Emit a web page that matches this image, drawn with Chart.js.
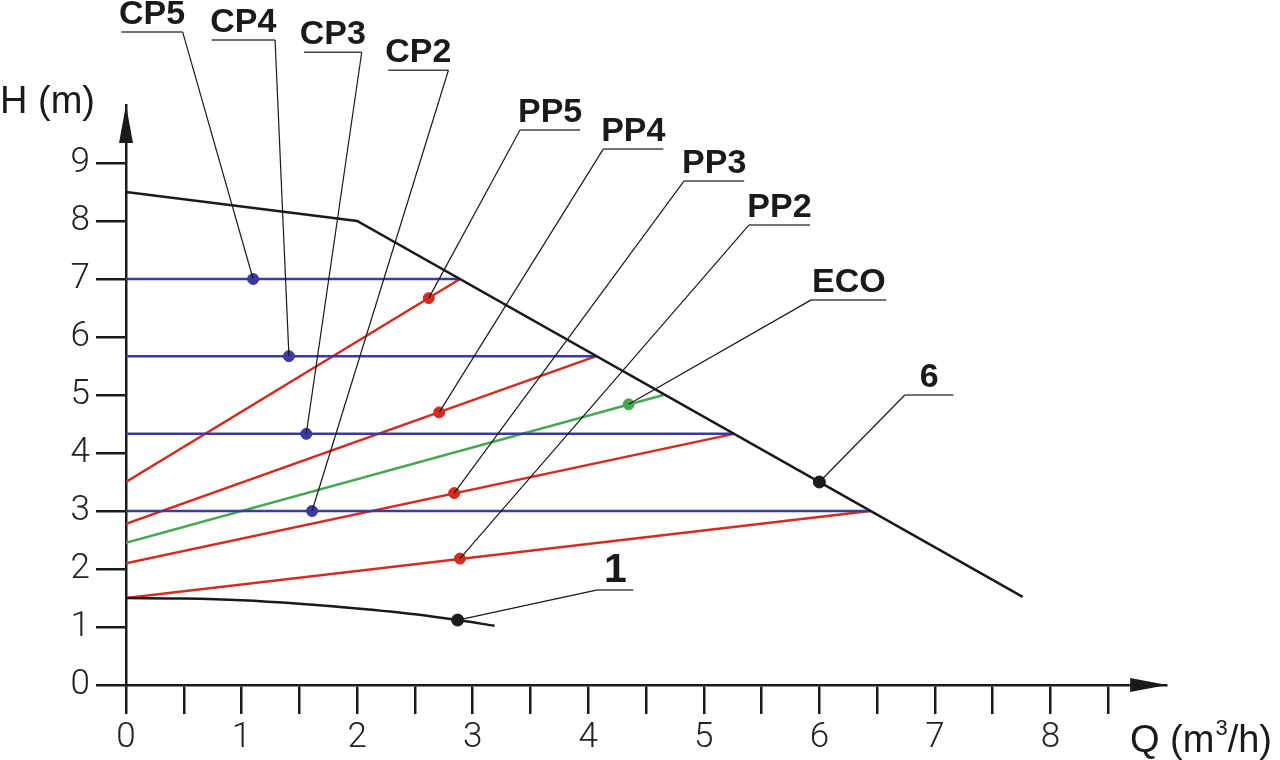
<!DOCTYPE html>
<html><head><meta charset="utf-8">
<script src="https://cdn.jsdelivr.net/npm/chart.js@4.4.1/dist/chart.umd.min.js"></script>
<style>html,body{margin:0;padding:0;background:#fff;overflow:hidden}canvas{display:block}</style>
</head><body>
<canvas id="c" width="1280" height="760"></canvas>
<script>
// ---- data ----
const xTickLabels = ['0','1','2','3','4','5','6','7','8'];
const yTickLabels = ['0','1','2','3','4','5','6','7','8','9'];

const maxQ = [0, 2, 7.76];            // curve "6"
const maxH = [8.5, 8.0, 1.52];
const minQ = [0, 0.5, 1, 1.5, 2, 2.5, 2.87, 3.19];   // curve "1"
const minH = [1.5, 1.49, 1.46, 1.40, 1.32, 1.22, 1.12, 1.02];

const cpNames = ['CP5','CP4','CP3','CP2'];
const cpH     = [7.0, 5.67, 4.33, 3.0];
const cpQend  = [2.89, 4.07, 5.26, 6.44];
const cpPtQ   = [1.10, 1.41, 1.56, 1.61];

const ppNames = ['PP5','PP4','PP3','PP2'];
const ppH0    = [3.5, 2.78, 2.1, 1.5];
const ppQend  = [2.89, 4.07, 5.26, 6.44];
const ppHend  = [7.0, 5.67, 4.33, 3.0];
const ppPtQ   = [2.62, 2.71, 2.84, 2.89];
const ppPtH   = [6.67, 4.70, 3.31, 2.18];

const ecoQ  = [0, 4.65];
const ecoH  = [2.45, 5.0];
const ecoPt = [4.35, 4.84];
const maxPt = [6.0, 3.5];
const minPt = [2.87, 1.12];

// ---- callout layout (label underline positions, in axis units) ----
const callouts = [
  {text:'CP5', x1:-0.04, x2:0.49, y:11.26, side:'r', tq:cpPtQ[0], th:cpH[0]},
  {text:'CP4', x1:0.74, x2:1.29, y:11.12, side:'r', tq:cpPtQ[1], th:cpH[1]},
  {text:'CP3', x1:1.54, x2:2.04, y:10.91, side:'r', tq:cpPtQ[2], th:cpH[2]},
  {text:'CP2', x1:2.27, x2:2.79, y:10.60, side:'r', tq:cpPtQ[3], th:cpH[3]},
  {text:'PP5', x1:3.41, x2:3.93, y:9.57, side:'l', tq:ppPtQ[0], th:ppPtH[0]},
  {text:'PP4', x1:4.13, x2:4.65, y:9.24, side:'l', tq:ppPtQ[1], th:ppPtH[1]},
  {text:'PP3', x1:4.83, x2:5.35, y:8.69, side:'l', tq:ppPtQ[2], th:ppPtH[2]},
  {text:'PP2', x1:5.39, x2:5.92, y:7.93, side:'l', tq:ppPtQ[3], th:ppPtH[3]},
  {text:'ECO', x1:5.93, x2:6.58, y:6.64, side:'l', tq:ecoPt[0], th:ecoPt[1]},
  {text:'6',   x1:6.74, x2:7.16, y:5.00, side:'l', tq:maxPt[0], th:maxPt[1]},
  {text:'1',   x1:4.08, x2:4.39, y:1.64, side:'l', tq:minPt[0], th:minPt[1], big:true}
];

const BLUE = '#3b3aa3', RED = '#d62b20', GREEN = '#45a852', BLACK = '#1a1a1a';
const pts = (qs, hs) => qs.map((q, i) => ({x:q, y:hs[i]}));

const datasets = [];
// markers (first = drawn on top)
datasets.push({data: cpPtQ.map((q,i)=>({x:q,y:cpH[i]})), backgroundColor:BLUE, borderColor:BLUE, pointRadius:5.5, showLine:false});
datasets.push({data: pts(ppPtQ, ppPtH), backgroundColor:RED, borderColor:RED, pointRadius:5.5, showLine:false});
datasets.push({data: [{x:ecoPt[0], y:ecoPt[1]}], backgroundColor:GREEN, borderColor:GREEN, pointRadius:5.5, showLine:false});
datasets.push({data: [{x:maxPt[0], y:maxPt[1]}, {x:minPt[0], y:minPt[1]}], backgroundColor:BLACK, borderColor:BLACK, pointRadius:6, showLine:false});
// black curves
datasets.push({data: pts(maxQ, maxH), borderColor:BLACK, borderWidth:2.5, pointRadius:0, showLine:true, tension:0});
datasets.push({data: pts(minQ, minH), borderColor:BLACK, borderWidth:2.5, pointRadius:0, showLine:true, cubicInterpolationMode:'monotone'});
// CP lines
cpNames.forEach((n,i)=>datasets.push({label:n, data:[{x:0,y:cpH[i]},{x:cpQend[i],y:cpH[i]}], borderColor:BLUE, borderWidth:2.5, pointRadius:0, showLine:true}));
// PP lines
ppNames.forEach((n,i)=>datasets.push({label:n, data:[{x:0,y:ppH0[i]},{x:ppQend[i],y:ppHend[i]}], borderColor:RED, borderWidth:2.5, pointRadius:0, showLine:true}));
// ECO
datasets.push({label:'ECO', data: pts(ecoQ, ecoH), borderColor:GREEN, borderWidth:2.5, pointRadius:0, showLine:true});

const annot = {
  id:'annot',
  afterDatasetsDraw(chart){
    const {ctx, scales:{x, y}} = chart;
    ctx.save();
    callouts.forEach(c=>{
      const X1 = x.getPixelForValue(c.x1), X2 = x.getPixelForValue(c.x2), Y = y.getPixelForValue(c.y);
      const tx = x.getPixelForValue(c.tq), ty = y.getPixelForValue(c.th);
      ctx.strokeStyle = '#444'; ctx.lineWidth = 1.5;
      ctx.beginPath(); ctx.moveTo(X1, Y); ctx.lineTo(X2, Y); ctx.stroke();
      ctx.strokeStyle = BLACK; ctx.lineWidth = 1.2;
      ctx.beginPath(); ctx.moveTo(c.side==='r'?X2:X1, Y); ctx.lineTo(tx, ty); ctx.stroke();
      ctx.fillStyle = BLACK;
      ctx.font = (c.big ? 'bold 41px' : 'bold 34px') + ' "Liberation Sans", Arial, sans-serif';
      ctx.textAlign = 'center'; ctx.textBaseline = 'alphabetic';
      ctx.fillText(c.text, (X1+X2)/2, Y - 8);
    });
    ctx.restore();
  },
  afterDraw(chart){
    const {ctx, chartArea, scales:{x, y}} = chart;
    ctx.save();
    ctx.fillStyle = BLACK;
    // y arrow
    const ox = x.getPixelForValue(0), ty = y.getPixelForValue(10);
    ctx.beginPath(); ctx.moveTo(ox, ty); ctx.lineTo(ox-7, ty+38); ctx.lineTo(ox+7, ty+38); ctx.closePath(); ctx.fill();
    // x arrow
    const oy = y.getPixelForValue(0), tx = x.getPixelForValue(9.01);
    ctx.beginPath(); ctx.moveTo(tx, oy); ctx.lineTo(tx-37, oy-7); ctx.lineTo(tx-37, oy+7); ctx.closePath(); ctx.fill();
    // axis titles
    ctx.fillStyle = '#1a1a1a';
    ctx.font = '38px "Liberation Sans", Arial, sans-serif';
    ctx.textAlign = 'left'; ctx.textBaseline = 'alphabetic';
    ctx.fillText('H (m)', 0, 113);
    let qx = chartArea.right - 36, qy = 752;
    ctx.fillText('Q (m', qx, qy);
    qx += ctx.measureText('Q (m').width;
    ctx.font = '22px "Liberation Sans", Arial, sans-serif';
    ctx.fillText('3', qx + 1, qy - 17);
    qx += ctx.measureText('3').width + 1;
    ctx.font = '38px "Liberation Sans", Arial, sans-serif';
    ctx.fillText('/h)', qx, qy);
    ctx.restore();
  }
};

const tickFont = {family:'Roboto, "DejaVu Sans", sans-serif', size:35, weight:'300'};

new Chart(document.getElementById('c'), {
  type:'scatter',
  data:{datasets},
  plugins:[annot],
  options:{
    responsive:false, animation:false, devicePixelRatio:1,
    layout:{padding:{left:0, right:114, top:105, bottom:0}},
    plugins:{legend:{display:false}, tooltip:{enabled:false}},
    elements:{line:{borderCapStyle:'butt'}},
    scales:{
      x:{type:'linear', min:0, max:9,
        afterFit(s){ s.height = 75; },
        afterBuildTicks(s){ s.ticks = s.ticks.filter(t => t.value <= 8.5); },
        ticks:{stepSize:0.5, autoSkip:false, maxRotation:0, padding:3, color:'#222', font:tickFont,
          callback:(v)=> Number.isInteger(v) ? xTickLabels[v] : ''},
        grid:{drawOnChartArea:false, drawTicks:true, tickLength:29, color:BLACK, lineWidth:2.5},
        border:{display:true, color:BLACK, width:2.5}
      },
      y:{type:'linear', min:0, max:10,
        afterFit(s){ s.width = 126; },
        afterBuildTicks(s){ s.ticks = s.ticks.filter(t => t.value <= 9); },
        ticks:{stepSize:1, autoSkip:false, padding:6, color:'#222', font:tickFont,
          callback:(v)=> yTickLabels[v]},
        grid:{drawOnChartArea:false, drawTicks:true, tickLength:30, color:BLACK, lineWidth:2.5},
        border:{display:true, color:BLACK, width:2.5}
      }
    }
  }
});
</script>
</body></html>
